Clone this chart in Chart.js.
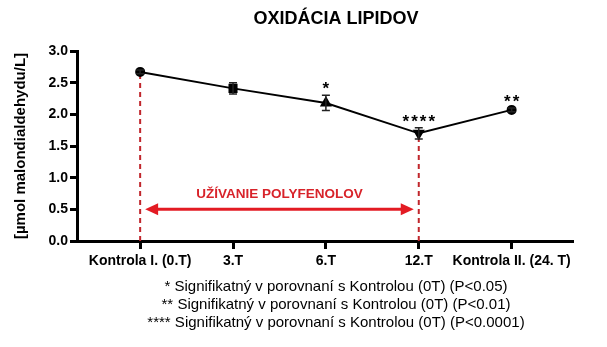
<!DOCTYPE html>
<html>
<head>
<meta charset="utf-8">
<script src="https://cdn.jsdelivr.net/npm/chart.js@4.4.0/dist/chart.umd.min.js"></script>
<style>
  html, body { margin: 0; padding: 0; background: #fff; }
  #wrap { width: 607px; height: 347px; }
</style>
</head>
<body>
<div id="wrap"><canvas id="lipidChart"></canvas></div>
<script>
const categories = ["Kontrola I. (0.T)", "3.T", "6.T", "12.T", "Kontrola II. (24. T)"];
const means = [2.67, 2.41, 2.18, 1.70, 2.07];
const errors = [0.03, 0.09, 0.12, 0.09, 0.03];
const sigLabels = ["", "", "*", "****", "**"];
const yTicks = [0, 0.5, 1.0, 1.5, 2.0, 2.5, 3.0];
const footnotes = [
  "* Signifikatný v porovnaní s Kontrolou (0T) (P<0.05)",
  "** Signifikatný v porovnaní s Kontrolou (0T) (P<0.01)",
  "**** Signifikatný v porovnaní s Kontrolou (0T) (P<0.0001)"
];
const chartTitle = "OXIDÁCIA LIPIDOV";
const periodLabel = "UŽÍVANIE POLYFENOLOV";
const periodStart = 0, periodEnd = 3;  // category indices of the treatment window
const periodLevel = 0.5, periodTextLevel = 0.73;

const FONT = "'Liberation Sans', Arial, sans-serif";

// error bars + significance stars
const errorBars = {
  id: "errorBars",
  afterDatasetsDraw(chart) {
    const { ctx, scales: { x, y } } = chart;
    ctx.save();
    ctx.strokeStyle = "#222";
    ctx.lineWidth = 1.5;
    means.forEach((m, i) => {
      const px = x.getPixelForValue(i);
      const top = y.getPixelForValue(m + errors[i]);
      const bot = y.getPixelForValue(m - errors[i]);
      ctx.beginPath();
      ctx.moveTo(px, top); ctx.lineTo(px, bot);
      ctx.moveTo(px - 4, top); ctx.lineTo(px + 4, top);
      ctx.moveTo(px - 4, bot); ctx.lineTo(px + 4, bot);
      ctx.stroke();
    });
    ctx.fillStyle = "#000";
    ctx.font = "bold 17px " + FONT;
    ctx.letterSpacing = "2px";
    ctx.textAlign = "center";
    ctx.textBaseline = "alphabetic";
    sigLabels.forEach((s, i) => {
      if (!s) return;
      const px = x.getPixelForValue(i);
      const top = y.getPixelForValue(means[i] + errors[i]);
      ctx.fillText(s, px + 1, top - 1);
    });
    ctx.restore();
  }
};

// red dashed guides and the treatment arrow
const periodMarks = {
  id: "periodMarks",
  beforeDatasetsDraw(chart) {
    const { ctx, scales: { x, y } } = chart;
    ctx.save();
    ctx.strokeStyle = "#c0262c";
    ctx.lineWidth = 2;
    ctx.setLineDash([5, 4]);
    [periodStart, periodEnd].forEach(i => {
      const px = x.getPixelForValue(i);
      ctx.beginPath();
      ctx.moveTo(px, y.getPixelForValue(0));
      ctx.lineTo(px, y.getPixelForValue(means[i]));
      ctx.stroke();
    });
    ctx.setLineDash([]);

    const ay = y.getPixelForValue(periodLevel);
    const x1 = x.getPixelForValue(periodStart) + 5;
    const x2 = x.getPixelForValue(periodEnd) - 5;
    const head = 13, half = 6;
    ctx.strokeStyle = "#e31b23";
    ctx.fillStyle = "#e31b23";
    ctx.lineWidth = 3;
    ctx.beginPath();
    ctx.moveTo(x1 + head - 2, ay); ctx.lineTo(x2 - head + 2, ay);
    ctx.stroke();
    ctx.beginPath();
    ctx.moveTo(x1, ay); ctx.lineTo(x1 + head, ay - half); ctx.lineTo(x1 + head, ay + half);
    ctx.closePath(); ctx.fill();
    ctx.beginPath();
    ctx.moveTo(x2, ay); ctx.lineTo(x2 - head, ay - half); ctx.lineTo(x2 - head, ay + half);
    ctx.closePath(); ctx.fill();

    ctx.fillStyle = "#d8232a";
    ctx.font = "bold 13.5px " + FONT;
    ctx.textAlign = "center";
    ctx.textBaseline = "middle";
    ctx.fillText(periodLabel, x.getPixelForValue((periodStart + periodEnd) / 2), y.getPixelForValue(periodTextLevel));
    ctx.restore();
  }
};

// heading and footnotes
const captions = {
  id: "captions",
  afterDraw(chart) {
    const { ctx } = chart;
    const cx = 336;
    ctx.save();
    ctx.fillStyle = "#000";
    ctx.textAlign = "center";
    ctx.textBaseline = "middle";
    ctx.font = "bold 18px " + FONT;
    ctx.fillText(chartTitle, cx, 19);
    ctx.font = "15px " + FONT;
    footnotes.forEach((t, i) => ctx.fillText(t, cx, 287 + i * 18));
    ctx.restore();
  }
};

new Chart(document.getElementById("lipidChart"), {
  type: "line",
  data: {
    datasets: [{
      data: means.map((v, i) => ({ x: i, y: v })),
      borderColor: "#000",
      borderWidth: 2,
      backgroundColor: "#000",
      pointStyle: ["circle", "rect", "triangle", "triangle", "circle"],
      pointRotation: [0, 0, 0, 180, 0],
      pointRadius: [4, 5, 5, 5, 4],
      pointHoverRadius: 5,
      tension: 0
    }]
  },
  options: {
    responsive: true,
    maintainAspectRatio: false,
    animation: false,
    layout: { padding: { top: 51, right: 35, bottom: 76, left: 0 } },
    plugins: {
      legend: { display: false },
      title: { display: false },
      tooltip: { enabled: false }
    },
    scales: {
      x: {
        type: "linear",
        min: -0.68,
        max: 4.65,
        afterBuildTicks: s => { s.ticks = categories.map((_, i) => ({ value: i })); },
        afterFit: s => { s.height = 30; },
        grid: { drawOnChartArea: false, color: "#000", lineWidth: 3, tickLength: 8 },
        border: { color: "#000", width: 3 },
        ticks: {
          color: "#000",
          padding: 4,
          maxRotation: 0,
          autoSkip: false,
          font: { family: FONT, size: 14, weight: "bold" },
          callback: v => categories[v] ?? ""
        }
      },
      y: {
        min: 0,
        max: 3,
        afterBuildTicks: s => { s.ticks = yTicks.map(v => ({ value: v })); },
        afterFit: s => { s.width = 77; },
        grid: { drawOnChartArea: false, color: "#000", lineWidth: 3, tickLength: 7 },
        border: { color: "#000", width: 3 },
        ticks: {
          color: "#000",
          padding: 2,
          font: { family: FONT, size: 14, weight: "bold" },
          callback: v => v.toFixed(1)
        },
        title: {
          display: true,
          text: "[µmol malondialdehydu/L]",
          color: "#000",
          padding: { top: 12, bottom: 0 },
          font: { family: FONT, size: 15, weight: "bold" }
        }
      }
    }
  },
  plugins: [periodMarks, errorBars, captions]
});
</script>
</body>
</html>
